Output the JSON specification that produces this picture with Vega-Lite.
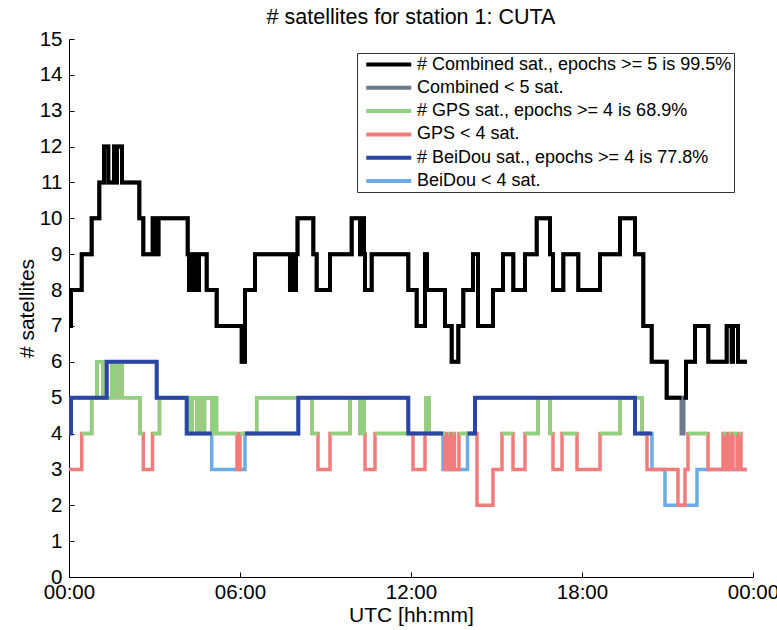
{
  "$schema": "https://vega.github.io/schema/vega-lite/v6.json",
  "width": 684,
  "height": 538,
  "autosize": {"type": "none"},
  "padding": {"left": 69, "top": 39, "right": 24, "bottom": 53},
  "background": "white",
  "title": {"text": "# satellites for station 1: CUTA", "font": "Liberation Sans", "fontSize": 21.5, "fontWeight": "normal", "color": "black", "offset": 1, "anchor": "middle"},
  "config": {
    "view": {"stroke": null},
    "axis": {"grid": false, "domainColor": "black", "tickColor": "black", "labelColor": "black", "titleColor": "black", "labelFont": "Liberation Sans", "titleFont": "Liberation Sans", "labelFontSize": 20.5, "titleFontSize": 21, "titleFontWeight": "normal", "domainWidth": 1, "tickWidth": 1}
  },
  "datasets": {
    "bds": [
      {"t":0,"v":4},{"t":0.07,"v":5},{"t":1.323,"v":6},{"t":3.077,"v":5},{"t":4.13,"v":4},{"t":5.007,"v":3},{"t":6.175,"v":4},{"t":8.046,"v":5},{"t":11.905,"v":4},{"t":13.123,"v":3},{"t":13.982,"v":4},{"t":14.246,"v":5},{"t":19.86,"v":4},{"t":20.456,"v":3},{"t":20.912,"v":2},{"t":22.035,"v":3},{"t":23.789,"v":3}
    ],
    "bdsHi": [
      {"g":1,"t":0,"v":4},{"g":1,"t":0.07,"v":5},{"g":1,"t":1.323,"v":6},{"g":1,"t":3.077,"v":5},{"g":1,"t":4.13,"v":4},{"g":1,"t":5.007,"v":4},
      {"g":2,"t":6.175,"v":4},{"g":2,"t":8.046,"v":5},{"g":2,"t":11.905,"v":4},{"g":2,"t":13.123,"v":4},
      {"g":3,"t":13.982,"v":4},{"g":3,"t":14.246,"v":5},{"g":3,"t":19.86,"v":4},{"g":3,"t":20.456,"v":4}
    ],
    "gps": [
      {"t":0,"v":3},{"t":0.446,"v":4},{"t":0.796,"v":5},{"t":0.982,"v":6},{"t":1.193,"v":5},{"t":1.509,"v":6},{"t":1.579,"v":5},{"t":1.719,"v":6},{"t":1.86,"v":5},{"t":2.491,"v":4},{"t":2.607,"v":3},{"t":2.93,"v":4},{"t":3.175,"v":5},{"t":4.246,"v":4},{"t":4.316,"v":5},{"t":4.491,"v":4},{"t":4.561,"v":5},{"t":4.702,"v":4},{"t":4.754,"v":5},{"t":5.018,"v":4},{"t":5.088,"v":5},{"t":5.175,"v":4},{"t":5.895,"v":3},{"t":6.0,"v":4},{"t":6.586,"v":5},{"t":8.526,"v":4},{"t":8.737,"v":3},{"t":9.158,"v":4},{"t":9.86,"v":5},{"t":10.211,"v":4},{"t":10.281,"v":5},{"t":10.351,"v":4},{"t":10.386,"v":3},{"t":10.737,"v":4},{"t":12.07,"v":3},{"t":12.491,"v":4},{"t":12.526,"v":5},{"t":12.632,"v":4},{"t":13.193,"v":3},{"t":13.298,"v":4},{"t":13.351,"v":3},{"t":13.474,"v":4},{"t":13.526,"v":3},{"t":13.684,"v":4},{"t":14.316,"v":2},{"t":14.877,"v":3},{"t":15.193,"v":4},{"t":15.579,"v":3},{"t":16.0,"v":4},{"t":16.456,"v":5},{"t":16.877,"v":4},{"t":16.982,"v":3},{"t":17.298,"v":4},{"t":17.825,"v":3},{"t":18.632,"v":4},{"t":19.333,"v":5},{"t":20.105,"v":4},{"t":20.281,"v":3},{"t":21.368,"v":2},{"t":21.614,"v":3},{"t":21.719,"v":4},{"t":22.421,"v":3},{"t":22.947,"v":4},{"t":23.053,"v":3},{"t":23.158,"v":4},{"t":23.228,"v":3},{"t":23.298,"v":4},{"t":23.439,"v":3},{"t":23.509,"v":4},{"t":23.579,"v":3},{"t":23.789,"v":3}
    ],
    "gpsHi": [
      {"g":1,"t":0.446,"v":4},{"g":1,"t":0.796,"v":5},{"g":1,"t":0.982,"v":6},{"g":1,"t":1.193,"v":5},{"g":1,"t":1.509,"v":6},{"g":1,"t":1.579,"v":5},{"g":1,"t":1.719,"v":6},{"g":1,"t":1.86,"v":5},{"g":1,"t":2.491,"v":4},{"g":1,"t":2.607,"v":4},
      {"g":2,"t":2.93,"v":4},{"g":2,"t":3.175,"v":5},{"g":2,"t":4.246,"v":4},{"g":2,"t":4.316,"v":5},{"g":2,"t":4.491,"v":4},{"g":2,"t":4.561,"v":5},{"g":2,"t":4.702,"v":4},{"g":2,"t":4.754,"v":5},{"g":2,"t":5.018,"v":4},{"g":2,"t":5.088,"v":5},{"g":2,"t":5.175,"v":4},{"g":2,"t":5.895,"v":4},
      {"g":3,"t":6.0,"v":4},{"g":3,"t":6.586,"v":5},{"g":3,"t":8.526,"v":4},{"g":3,"t":8.737,"v":4},
      {"g":4,"t":9.158,"v":4},{"g":4,"t":9.86,"v":5},{"g":4,"t":10.211,"v":4},{"g":4,"t":10.281,"v":5},{"g":4,"t":10.351,"v":4},{"g":4,"t":10.386,"v":4},
      {"g":5,"t":10.737,"v":4},{"g":5,"t":12.07,"v":4},
      {"g":6,"t":12.491,"v":4},{"g":6,"t":12.526,"v":5},{"g":6,"t":12.632,"v":4},{"g":6,"t":13.193,"v":4},
      {"g":7,"t":13.298,"v":4},{"g":7,"t":13.351,"v":4},
      {"g":8,"t":13.474,"v":4},{"g":8,"t":13.526,"v":4},
      {"g":9,"t":13.684,"v":4},{"g":9,"t":14.316,"v":4},
      {"g":10,"t":15.193,"v":4},{"g":10,"t":15.579,"v":4},
      {"g":11,"t":16.0,"v":4},{"g":11,"t":16.456,"v":5},{"g":11,"t":16.877,"v":4},{"g":11,"t":16.982,"v":4},
      {"g":12,"t":17.298,"v":4},{"g":12,"t":17.825,"v":4},
      {"g":13,"t":18.632,"v":4},{"g":13,"t":19.333,"v":5},{"g":13,"t":20.105,"v":4},{"g":13,"t":20.281,"v":4},
      {"g":14,"t":21.719,"v":4},{"g":14,"t":22.421,"v":4},
      {"g":15,"t":22.947,"v":4},{"g":15,"t":23.053,"v":4},
      {"g":16,"t":23.158,"v":4},{"g":16,"t":23.228,"v":4},
      {"g":17,"t":23.298,"v":4},{"g":17,"t":23.439,"v":4},
      {"g":18,"t":23.509,"v":4},{"g":18,"t":23.579,"v":4}
    ],
    "comb": [
      {"t":0,"v":7},{"t":0.07,"v":8},{"t":0.446,"v":9},{"t":0.796,"v":10},{"t":1.063,"v":11},{"t":1.228,"v":12},{"t":1.379,"v":11},{"t":1.579,"v":12},{"t":1.649,"v":11},{"t":1.684,"v":12},{"t":1.86,"v":11},{"t":2.467,"v":10},{"t":2.607,"v":9},{"t":2.937,"v":10},{"t":2.982,"v":9},{"t":3.035,"v":10},{"t":3.088,"v":9},{"t":3.14,"v":10},{"t":4.165,"v":9},{"t":4.211,"v":8},{"t":4.281,"v":9},{"t":4.351,"v":8},{"t":4.421,"v":9},{"t":4.491,"v":8},{"t":4.561,"v":9},{"t":4.832,"v":8},{"t":5.182,"v":7},{"t":6.06,"v":6},{"t":6.175,"v":8},{"t":6.526,"v":9},{"t":7.754,"v":8},{"t":7.825,"v":9},{"t":7.895,"v":8},{"t":7.965,"v":9},{"t":8.018,"v":10},{"t":8.572,"v":9},{"t":8.691,"v":8},{"t":9.158,"v":9},{"t":9.919,"v":10},{"t":10.211,"v":9},{"t":10.263,"v":10},{"t":10.351,"v":9},{"t":10.386,"v":8},{"t":10.621,"v":9},{"t":11.905,"v":8},{"t":12.2,"v":7},{"t":12.491,"v":9},{"t":12.561,"v":8},{"t":13.193,"v":7},{"t":13.428,"v":6},{"t":13.66,"v":7},{"t":13.835,"v":8},{"t":14.175,"v":9},{"t":14.351,"v":7},{"t":14.877,"v":8},{"t":15.228,"v":9},{"t":15.589,"v":8},{"t":16.0,"v":9},{"t":16.411,"v":10},{"t":16.877,"v":9},{"t":16.982,"v":8},{"t":17.344,"v":9},{"t":17.87,"v":8},{"t":18.632,"v":9},{"t":19.333,"v":10},{"t":19.86,"v":9},{"t":20.151,"v":7},{"t":20.446,"v":6},{"t":20.972,"v":5},{"t":21.491,"v":4},{"t":21.561,"v":5},{"t":21.649,"v":6},{"t":21.965,"v":7},{"t":22.432,"v":6},{"t":23.077,"v":7},{"t":23.253,"v":6},{"t":23.298,"v":7},{"t":23.474,"v":6},{"t":23.789,"v":6}
    ],
    "combHi": [
      {"g":1,"t":0,"v":7},{"g":1,"t":0.07,"v":8},{"g":1,"t":0.446,"v":9},{"g":1,"t":0.796,"v":10},{"g":1,"t":1.063,"v":11},{"g":1,"t":1.228,"v":12},{"g":1,"t":1.379,"v":11},{"g":1,"t":1.579,"v":12},{"g":1,"t":1.649,"v":11},{"g":1,"t":1.684,"v":12},{"g":1,"t":1.86,"v":11},{"g":1,"t":2.467,"v":10},{"g":1,"t":2.607,"v":9},{"g":1,"t":2.937,"v":10},{"g":1,"t":2.982,"v":9},{"g":1,"t":3.035,"v":10},{"g":1,"t":3.088,"v":9},{"g":1,"t":3.14,"v":10},{"g":1,"t":4.165,"v":9},{"g":1,"t":4.211,"v":8},{"g":1,"t":4.281,"v":9},{"g":1,"t":4.351,"v":8},{"g":1,"t":4.421,"v":9},{"g":1,"t":4.491,"v":8},{"g":1,"t":4.561,"v":9},{"g":1,"t":4.832,"v":8},{"g":1,"t":5.182,"v":7},{"g":1,"t":6.06,"v":6},{"g":1,"t":6.175,"v":8},{"g":1,"t":6.526,"v":9},{"g":1,"t":7.754,"v":8},{"g":1,"t":7.825,"v":9},{"g":1,"t":7.895,"v":8},{"g":1,"t":7.965,"v":9},{"g":1,"t":8.018,"v":10},{"g":1,"t":8.572,"v":9},{"g":1,"t":8.691,"v":8},{"g":1,"t":9.158,"v":9},{"g":1,"t":9.919,"v":10},{"g":1,"t":10.211,"v":9},{"g":1,"t":10.263,"v":10},{"g":1,"t":10.351,"v":9},{"g":1,"t":10.386,"v":8},{"g":1,"t":10.621,"v":9},{"g":1,"t":11.905,"v":8},{"g":1,"t":12.2,"v":7},{"g":1,"t":12.491,"v":9},{"g":1,"t":12.561,"v":8},{"g":1,"t":13.193,"v":7},{"g":1,"t":13.428,"v":6},{"g":1,"t":13.66,"v":7},{"g":1,"t":13.835,"v":8},{"g":1,"t":14.175,"v":9},{"g":1,"t":14.351,"v":7},{"g":1,"t":14.877,"v":8},{"g":1,"t":15.228,"v":9},{"g":1,"t":15.589,"v":8},{"g":1,"t":16.0,"v":9},{"g":1,"t":16.411,"v":10},{"g":1,"t":16.877,"v":9},{"g":1,"t":16.982,"v":8},{"g":1,"t":17.344,"v":9},{"g":1,"t":17.87,"v":8},{"g":1,"t":18.632,"v":9},{"g":1,"t":19.333,"v":10},{"g":1,"t":19.86,"v":9},{"g":1,"t":20.151,"v":7},{"g":1,"t":20.446,"v":6},{"g":1,"t":20.972,"v":5},{"g":1,"t":21.491,"v":5},
      {"g":2,"t":21.561,"v":5},{"g":2,"t":21.649,"v":6},{"g":2,"t":21.965,"v":7},{"g":2,"t":22.432,"v":6},{"g":2,"t":23.077,"v":7},{"g":2,"t":23.253,"v":6},{"g":2,"t":23.298,"v":7},{"g":2,"t":23.474,"v":6},{"g":2,"t":23.789,"v":6}
    ]
  },
  "encoding": {
    "x": {"field": "t", "type": "quantitative", "scale": {"domain": [0, 24], "nice": false, "zero": false},
      "axis": {"values": [0, 6, 12, 18, 24], "labelExpr": "(datum.value < 10 || datum.value == 24 ? '0' : '') + (datum.value % 24) + ':00'", "title": "UTC [hh:mm]", "tickSize": {"expr": "-5"}, "labelPadding": 10, "titlePadding": 2, "labelFlush": false}},
    "y": {"field": "v", "type": "quantitative", "scale": {"domain": [0, 15], "nice": false},
      "axis": {"values": [0,1,2,3,4,5,6,7,8,9,10,11,12,13,14,15], "title": "# satellites", "tickSize": {"expr": "-5"}, "labelPadding": 12, "titlePadding": 2}}
  },
  "layer": [
    {"data": {"name": "bds"}, "mark": {"type": "line", "interpolate": "step-after", "strokeWidth": 3.5},
      "encoding": {"color": {"datum": "F", "type": "nominal",
        "scale": {"domain": ["A","B","C","D","E","F"], "range": ["#000000", "#6b7b8c", "#8fd17e", "#f27c7c", "#2b45a3", "#6cace4"]},
        "legend": {"orient": "none", "legendX": 288, "legendY": 14, "direction": "vertical", "title": null,
          "symbolType": "M-0.3,0H5.7", "symbolSize": 225, "symbolStrokeWidth": 4, "labelOffset": 39,
          "labelFont": "Liberation Sans", "labelFontSize": 18, "labelColor": "black", "labelLimit": 0,
          "rowPadding": 4.3, "strokeColor": "#333333", "fillColor": "white", "padding": 2,
          "labelExpr": "datum.label == 'A' ? '# Combined sat., epochs >= 5 is 99.5%' : datum.label == 'B' ? 'Combined < 5 sat.' : datum.label == 'C' ? '# GPS sat., epochs >= 4 is 68.9%' : datum.label == 'D' ? 'GPS < 4 sat.' : datum.label == 'E' ? '# BeiDou sat., epochs >= 4 is 77.8%' : 'BeiDou < 4 sat.'"}}}},
    {"data": {"name": "gps"}, "mark": {"type": "line", "interpolate": "step-after", "strokeWidth": 3.5},
      "encoding": {"color": {"datum": "D", "type": "nominal"}}},
    {"data": {"name": "gpsHi"}, "mark": {"type": "line", "interpolate": "step-after", "strokeWidth": 3.5},
      "encoding": {"color": {"datum": "C", "type": "nominal"}, "detail": {"field": "g", "type": "nominal"}}},
    {"data": {"name": "bdsHi"}, "mark": {"type": "line", "interpolate": "step-after", "strokeWidth": 4},
      "encoding": {"color": {"datum": "E", "type": "nominal"}, "detail": {"field": "g", "type": "nominal"}}},
    {"data": {"name": "comb"}, "mark": {"type": "line", "interpolate": "step-after", "strokeWidth": 4},
      "encoding": {"color": {"datum": "B", "type": "nominal"}}},
    {"data": {"name": "combHi"}, "mark": {"type": "line", "interpolate": "step-after", "strokeWidth": 4},
      "encoding": {"color": {"datum": "A", "type": "nominal"}, "detail": {"field": "g", "type": "nominal"}}}
  ]
}
